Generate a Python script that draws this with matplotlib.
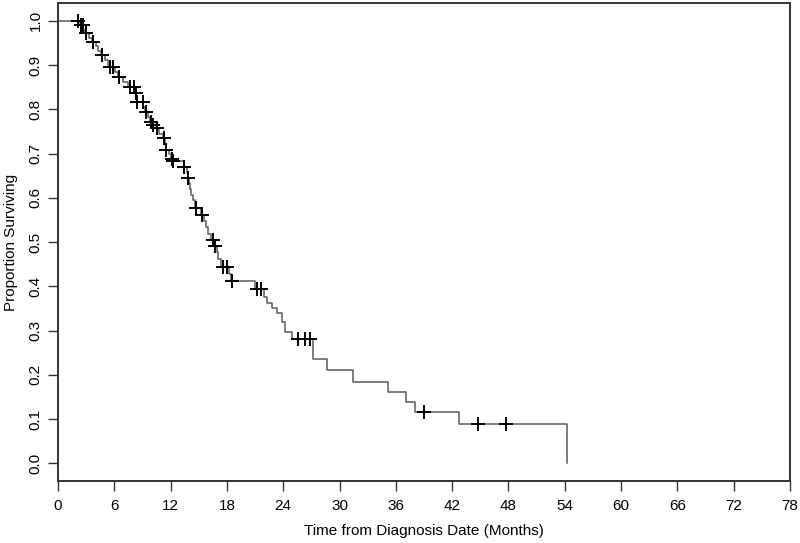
import numpy as np
import matplotlib
matplotlib.use("Agg")
import matplotlib.pyplot as plt

plt.rcParams['font.family'] = ['Liberation Sans', 'DejaVu Sans']

# Kaplan-Meier curve: time of each drop (months) and survival after it
event_times = [0.0, 2.3, 2.7, 2.9, 3.3, 3.6, 4.0, 4.3, 4.6, 5.0, 5.3, 5.5,
               6.1, 6.4, 6.9, 7.5, 8.2, 8.35, 8.42, 9.1, 9.3, 9.6, 9.8, 10.0,
               10.4, 10.8, 11.2, 11.4, 11.5, 11.8, 12.0, 12.2, 13.4, 13.7,
               13.85, 14.0, 14.1, 14.2, 14.4, 14.6, 15.2, 15.6, 15.8, 16.0,
               16.3, 16.6, 16.9, 17.1, 17.4, 18.2, 18.4, 21.0, 21.9, 22.24,
               22.77, 23.3, 23.83, 24.19, 24.9, 27.2, 28.63, 31.4, 35.2,
               37.08, 38.04, 42.78, 54.27]
survival = [1.0, 0.990, 0.980, 0.972, 0.962, 0.953, 0.943, 0.932, 0.922,
            0.911, 0.901, 0.896, 0.884, 0.873, 0.862, 0.851, 0.836, 0.826,
            0.816, 0.805, 0.794, 0.783, 0.772, 0.764, 0.757, 0.745, 0.734,
            0.721, 0.708, 0.698, 0.688, 0.683, 0.670, 0.657, 0.645, 0.633,
            0.620, 0.607, 0.594, 0.576, 0.561, 0.547, 0.533, 0.519, 0.505,
            0.492, 0.477, 0.461, 0.444, 0.428, 0.412, 0.393, 0.375, 0.362,
            0.351, 0.340, 0.320, 0.297, 0.280, 0.235, 0.210, 0.184, 0.161,
            0.139, 0.116, 0.088, 0.0]

# censored observations (months)
censor_times = [2.16, 2.42, 2.63, 2.98, 3.70, 4.66, 5.54, 5.83, 6.53, 7.67,
                8.10, 8.31, 8.45, 9.02, 9.38, 9.88, 10.09, 10.52, 11.29,
                11.51, 12.12, 12.29, 13.46, 13.88, 14.70, 15.31, 16.48,
                16.73, 17.61, 17.98, 18.51, 21.17, 21.60, 25.60, 26.32,
                26.85, 39.0, 44.8, 47.7]

x_ticks = np.arange(0, 79, 6)
y_ticks = np.arange(0, 1.01, 0.1)

t = np.array(event_times)
s = np.array(survival)
ct = np.array(censor_times)
cs = s[np.searchsorted(t, ct, side='right') - 1]

fig = plt.figure(figsize=(8, 5.43), dpi=100)
ax = fig.add_axes([0.0725, 0.114, 0.915, 0.8805])

ax.step(t, s, where='post', color='#5a5a5a', lw=1.1)
ax.plot(ct, cs, '+', color='black', ms=10, mew=1.4)

ax.set_xlim(0, 78)
ax.set_ylim(-0.04, 1.04)
ax.set_xticks(x_ticks)
ax.set_yticks(y_ticks)
ax.set_yticklabels([f"{v:.1f}" for v in y_ticks], rotation=90, va='center')
ax.tick_params(direction='out', length=7, width=1, colors='#333333',
               labelsize=11, labelcolor='black')
ax.tick_params(axis='x', pad=6)
ax.tick_params(axis='y', pad=4)
for sp in ax.spines.values():
    sp.set_linewidth(1.4)
    sp.set_color('#333333')

ax.set_xlabel('Time from Diagnosis Date (Months)', fontsize=11, labelpad=8)
ax.set_ylabel('Proportion Surviving', fontsize=11, labelpad=8)

fig.savefig('out.png', dpi=100)
